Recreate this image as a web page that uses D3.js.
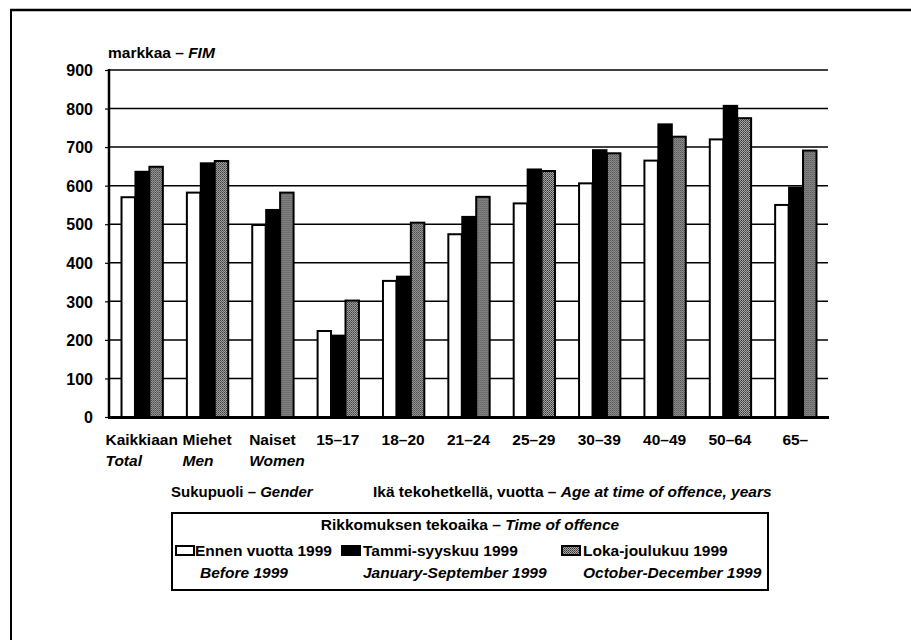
<!DOCTYPE html>
<html><head><meta charset="utf-8">
<script src="https://cdn.jsdelivr.net/npm/d3@7"></script>
<style>
html,body{margin:0;padding:0;background:#fff;}
svg text{font-family:"Liberation Sans",Arial,sans-serif;font-weight:bold;fill:#000;}
</style></head>
<body>
<script>
const categories = ["Kaikkiaan","Miehet","Naiset","15–17","18–20","21–24","25–29","30–39","40–49","50–64","65–"];
const categoriesEn = ["Total","Men","Women","","","","","","","",""];
const seriesNames = ["Ennen vuotta 1999","Tammi-syyskuu 1999","Loka-joulukuu 1999"];
const seriesNamesEn = ["Before 1999","January-September 1999","October-December 1999"];
const before1999 = [570,582,498,223,353,474,554,606,665,720,550];
const janSep1999 = [636,658,537,211,364,519,642,692,759,807,595];
const octDec1999 = [649,664,582,302,504,571,638,684,727,775,691];
const yTicks = [0,100,200,300,400,500,600,700,800,900];

const W=911,H=640;
const svg=d3.select("body").append("svg").attr("width",W).attr("height",H);

// pattern for gray series
const defs=svg.append("defs");
const pat=defs.append("pattern").attr("id","halftone").attr("patternUnits","userSpaceOnUse").attr("width",2).attr("height",2);
pat.append("rect").attr("width",2).attr("height",2).attr("fill","#a8a8a8");
pat.append("rect").attr("width",1).attr("height",1).attr("fill","#333");
pat.append("rect").attr("x",1).attr("y",1).attr("width",1).attr("height",1).attr("fill","#555");

// page frame
svg.append("line").attr("x1",10).attr("x2",W).attr("y1",10).attr("y2",10).attr("stroke","#000").attr("stroke-width",2.5);
svg.append("line").attr("x1",11).attr("x2",11).attr("y1",10).attr("y2",H).attr("stroke","#000").attr("stroke-width",2);

const x=d3.scaleBand().domain(categories).range([109,828]).paddingInner(0.36).paddingOuter(0.18);
const x1=d3.scaleBand().domain([0,1,2]).range([0,x.bandwidth()]);
const y=d3.scaleLinear().domain([0,900]).range([417,70]);

// gridlines
svg.append("g").selectAll("line").data(yTicks.filter(d=>d>0)).join("line")
  .attr("x1",109).attr("x2",828).attr("y1",d=>y(d)).attr("y2",d=>y(d))
  .attr("stroke","#000").attr("stroke-width",1.5);

// y axis
const yAxis=svg.append("g").attr("transform","translate(109,0)")
  .call(d3.axisLeft(y).tickValues(yTicks).tickSize(4).tickPadding(12).tickFormat(d3.format("d")));
yAxis.select(".domain").remove();
yAxis.selectAll("line").attr("stroke","#000").attr("stroke-width",1.2);
yAxis.selectAll("text").attr("font-size","16px").attr("font-family","'Liberation Sans',Arial,sans-serif").attr("font-weight","bold").attr("dy","0.36em");

// bars
const series=[before1999,janSep1999,octDec1999];
const fills=["#fff","#000","url(#halftone)"];
const groups=svg.append("g").selectAll("g").data(categories).join("g")
  .attr("transform",d=>`translate(${x(d)},0)`);
groups.selectAll("rect").data((d,i)=>series.map((s,k)=>({k,v:s[i]}))).join("rect")
  .attr("x",d=>x1(d.k)+0.75).attr("width",x1.bandwidth()-0.5)
  .attr("y",d=>y(d.v)).attr("height",d=>y(0)-y(d.v))
  .attr("fill",d=>fills[d.k]).attr("stroke","#000").attr("stroke-width",2);

// axis lines
svg.append("line").attr("x1",109).attr("x2",109).attr("y1",69).attr("y2",418).attr("stroke","#000").attr("stroke-width",2.5);
svg.append("line").attr("x1",108).attr("x2",829).attr("y1",417.5).attr("y2",417.5).attr("stroke","#000").attr("stroke-width",3);

// category labels
const lab=svg.append("g").selectAll("g").data(categories).join("g");
lab.each(function(d,i){
  const g=d3.select(this);
  const cx=x(d)+x.bandwidth()/2;
  const t=g.append("text").attr("x",cx).attr("y",445).attr("text-anchor","middle").attr("font-size","15.5px").text(d);
  if(categoriesEn[i]){
    const w=t.node().getComputedTextLength();
    g.append("text").attr("x",cx-w/2).attr("y",466).attr("font-size","15.5px").attr("font-style","italic").text(categoriesEn[i]);
  }
});

// y label
const yl=svg.append("text").attr("x",108).attr("y",58).attr("font-size","15.5px");
yl.append("tspan").text("markkaa – ");
yl.append("tspan").attr("font-style","italic").text("FIM");

// group titles
const g1=svg.append("text").attr("x",171).attr("y",497).attr("font-size","15px");
g1.append("tspan").text("Sukupuoli – ");
g1.append("tspan").attr("font-style","italic").text("Gender");
const g2=svg.append("text").attr("x",373).attr("y",497).attr("font-size","15.5px");
g2.append("tspan").text("Ikä tekohetkellä, vuotta – ");
g2.append("tspan").attr("font-style","italic").text("Age at time of offence, years");

// legend
const lg=svg.append("g");
lg.append("rect").attr("x",172).attr("y",513).attr("width",596).attr("height",77).attr("fill","none").attr("stroke","#000").attr("stroke-width",2);
const lt=lg.append("text").attr("x",470).attr("y",530).attr("text-anchor","middle").attr("font-size","15.5px");
lt.append("tspan").text("Rikkomuksen tekoaika – ");
lt.append("tspan").attr("font-style","italic").text("Time of offence");
const swX=[175,341,561], txX=[195,363,583], enX=[200,363,583];
seriesNames.forEach((n,k)=>{
  lg.append("rect").attr("x",swX[k]+1).attr("y",546).attr("width",18).attr("height",9)
    .attr("fill",fills[k]).attr("stroke","#000").attr("stroke-width",2);
  lg.append("text").attr("x",txX[k]).attr("y",556).attr("font-size","15.5px").text(n);
  lg.append("text").attr("x",enX[k]).attr("y",578).attr("font-size","15.5px").attr("font-style","italic").text(seriesNamesEn[k]);
});
</script>
</body></html>
